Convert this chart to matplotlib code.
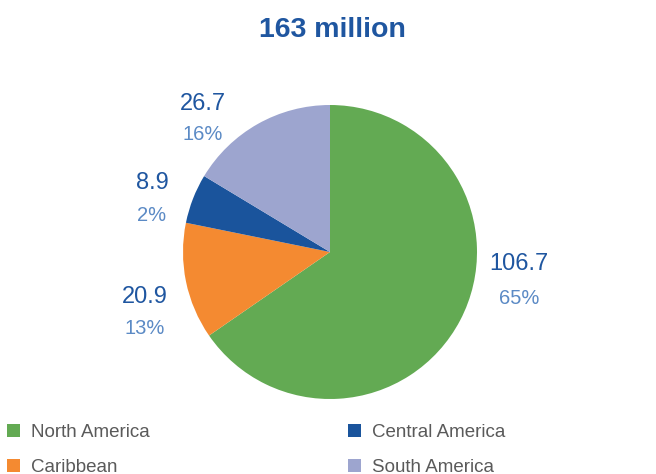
import matplotlib
matplotlib.use("Agg")
import matplotlib.pyplot as plt

regions = ["North America", "Caribbean", "Central America", "South America"]
values = [106.7, 20.9, 8.9, 26.7]
value_labels = ["106.7", "20.9", "8.9", "26.7"]
pct_labels = ["65%", "13%", "2%", "16%"]
colors = ["#63aa53", "#f48a31", "#1a549c", "#9da5cf"]
title = "163 million"

# label anchor spots (in pie radius units): value line, percent line
label_pos = [(1.286, -0.085, -0.318),
             (-1.259, -0.305, -0.520),
             (-1.211, 0.466, 0.250),
             (-0.864, 1.004, 0.800)]

plt.rcParams['font.family'] = ['Liberation Sans', 'DejaVu Sans']

W, H = 656, 474
fig = plt.figure(figsize=(W / 100, H / 100), dpi=100)
cx, cy, r = 330, 252, 147
ax = fig.add_axes([(cx - r) / W, (H - cy - r) / H, 2 * r / W, 2 * r / H])

wedges, _ = ax.pie(values, colors=colors, startangle=90, counterclock=False,
                   radius=1, wedgeprops=dict(linewidth=0))
ax.set_xlim(-1, 1)
ax.set_ylim(-1, 1)
ax.set_aspect('equal')
ax.axis('off')

for (x, yv, yp), vl, pl in zip(label_pos, value_labels, pct_labels):
    ax.text(x, yv, vl, ha='center', va='center', fontsize=17,
            color="#1f56a0", clip_on=False)
    ax.text(x, yp, pl, ha='center', va='center', fontsize=14.5,
            color="#5b8ac5", clip_on=False)

fig.text(332 / W, 1 - 30 / H, title, ha='center', va='center',
         fontsize=20.5, fontweight='bold', color="#1f56a0")

fig.legend(wedges, regions, ncol=2, loc='upper left',
           bbox_to_anchor=(1 / W, 1 - 418 / H), frameon=False,
           fontsize=13.5, labelcolor="#5a5a5a",
           handlelength=0.7, handleheight=0.7, handletextpad=0.6,
           columnspacing=10.55, labelspacing=0.95, borderaxespad=0,
           borderpad=0.3)

fig.savefig("out.png", dpi=100)
